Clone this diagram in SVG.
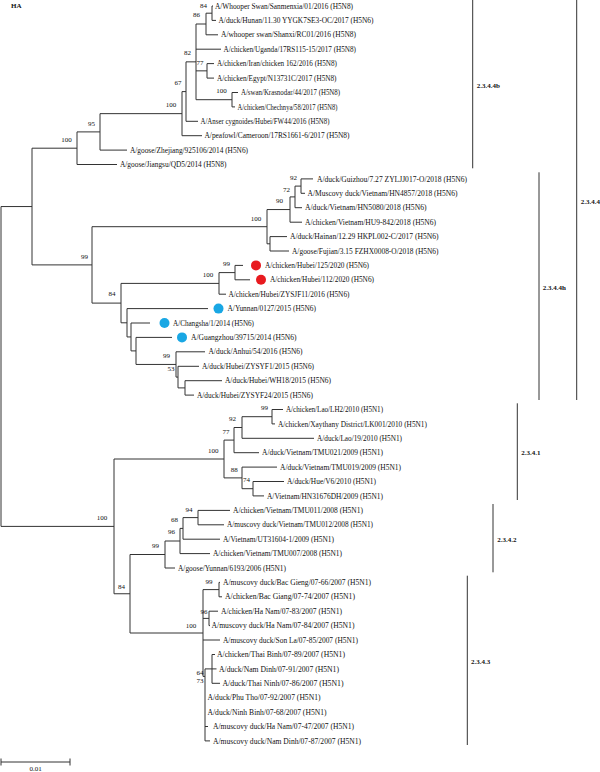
<svg xmlns="http://www.w3.org/2000/svg" width="600" height="772" viewBox="0 0 600 772">
<style>
.t{font-family:"Liberation Serif",serif;font-size:7.4px;fill:#111}
.b{font-family:"Liberation Serif",serif;font-size:7px;fill:#111;text-anchor:middle}
.c{font-family:"Liberation Serif",serif;font-size:7px;fill:#111;font-weight:bold}
.e{stroke:#333;stroke-width:1;fill:none}
.bar{stroke:#333;stroke-width:1;fill:none}
.red{fill:#e81a1f}
.blue{fill:#19a7e4}
</style>
<rect width="600" height="772" fill="#fff"/>
<text class="c" x="11" y="8">HA</text>

<g id="connectors" class="e">
<path d="M1 206.55V526.4M1 206.55H32M1 526.4H114"/>
<path d="M32 148.2V264.9M32 148.2H77M32 264.9H92"/>
<path d="M77 131.9V164.5M77 131.9H100M77 164.5H117"/>
<path d="M100 113.65V150.1M100 113.65H182M100 150.1H127"/>
<path d="M182 91.6V135.7M182 91.6H186M182 135.7H202"/>
<path d="M186 61.85V121.3M186 61.85H196M186 121.3H198"/>
<path d="M196 24V99.7M196 24H206M196 49.2H221M196 70.85H207M196 99.7H232"/>
<path d="M206 13.2V34.8M206 13.2H212M206 34.8H218"/>
<path d="M212 6V20.4M212 6H213M212 20.4H216"/>
<path d="M207 63.6V78.1M207 63.6H214M207 78.1H214"/>
<path d="M232 92.5V106.9M232 92.5H238M232 106.9H235"/>
<path d="M92 226.7V303.1M92 226.7H267M92 303.1H121"/>
<path d="M267 209.55V243.8M267 209.55H290M267 243.8H270"/>
<path d="M290 196.9V222.2M290 196.9H295M290 222.2H302"/>
<path d="M295 186.1V207.7M295 186.1H301M295 207.7H302"/>
<path d="M301 178.9V193.3M301 178.9H313M301 193.3H305"/>
<path d="M270 236.6V251M270 236.6H287M270 251H289"/>
<path d="M121 283.4V322.8M121 283.4H219M121 322.8H127"/>
<path d="M219 272.6V294.2M219 272.6H235M219 294.2H226"/>
<path d="M235 265.4V279.8M235 265.4H243M235 279.8H250"/>
<path d="M127 308.6V336.95M127 308.6H208M127 336.95H131"/>
<path d="M131 323V350.9M131 323H150M131 350.9H136"/>
<path d="M136 337.4V364.45M136 337.4H172M136 364.45H176"/>
<path d="M176 351.8V377.1M176 351.8H205M176 377.1H178"/>
<path d="M178 366.3V387.9M178 366.3H199M178 387.9H185"/>
<path d="M185 380.7V395.1M185 380.7H222M185 395.1H194"/>
<path d="M114 459V593.75M114 459H224M114 593.75H130"/>
<path d="M224 440.1V477.9M224 440.1H234M224 477.9H242"/>
<path d="M234 427.5V452.7M234 427.5H242M234 452.7H259"/>
<path d="M242 416.7V438.3M242 416.7H272M242 438.3H314"/>
<path d="M272 409.5V423.9M272 409.5H283M272 423.9H275"/>
<path d="M242 467.1V488.7M242 467.1H277M242 488.7H253"/>
<path d="M253 481.5V495.9M253 481.5H284M253 495.9H264"/>
<path d="M130 554.5V633M130 554.5H165M130 633H203"/>
<path d="M165 541V568M165 541H180M165 568H175"/>
<path d="M180 528.4V553.6M180 528.4H183M180 553.6H210"/>
<path d="M183 517.6V539.2M183 517.6H198M183 539.2H220"/>
<path d="M198 510.4V524.8M198 510.4H230M198 524.8H224"/>
<path d="M203 589.6V676.4M203 589.6H219M203 618.4H209M203 640H220M203 676.4H205"/>
<path d="M219 582.4V596.8M219 582.4H220M219 596.8H222"/>
<path d="M209 611.2V625.6M209 611.2H218M209 625.6H210"/>
<path d="M205 668.9V740.9M205 668.9H212M205 726.5H208M205 740.9H210"/>
<path d="M212 654.5V683.3M212 654.5H215M212 668.9H216.5M212 683.3H220"/>
</g>

<g id="bootstrap">
<text class="b" x="203.5" y="8.3">84</text>
<text class="b" x="196.5" y="17.3">86</text>
<text class="b" x="187.5" y="55">82</text>
<text class="b" x="200" y="65">77</text>
<text class="b" x="221.5" y="93.3">100</text>
<text class="b" x="178" y="85">67</text>
<text class="b" x="171" y="107.3">100</text>
<text class="b" x="91.5" y="125.6">95</text>
<text class="b" x="66.5" y="141.6">100</text>
<text class="b" x="84.5" y="259">99</text>
<text class="b" x="112" y="296.3">84</text>
<text class="b" x="293.5" y="180">92</text>
<text class="b" x="286.5" y="191.6">72</text>
<text class="b" x="279.5" y="203">90</text>
<text class="b" x="256" y="220.6">100</text>
<text class="b" x="226.5" y="266.3">99</text>
<text class="b" x="208" y="277">100</text>
<text class="b" x="166.5" y="358.3">99</text>
<text class="b" x="171" y="371.3">53</text>
<text class="b" x="102" y="519.6">100</text>
<text class="b" x="264.5" y="410">99</text>
<text class="b" x="232.5" y="420.6">92</text>
<text class="b" x="226" y="434">77</text>
<text class="b" x="213.3" y="453">100</text>
<text class="b" x="234.3" y="471.6">88</text>
<text class="b" x="246.5" y="482.3">74</text>
<text class="b" x="121.5" y="589">84</text>
<text class="b" x="155.5" y="548">99</text>
<text class="b" x="171.5" y="534.3">96</text>
<text class="b" x="174.5" y="521.6">68</text>
<text class="b" x="189" y="511.6">94</text>
<text class="b" x="191" y="628.3">100</text>
<text class="b" x="209" y="584.3">99</text>
<text class="b" x="204" y="614">96</text>
<text class="b" x="200" y="675">64</text>
<text class="b" x="200" y="683.3">73</text>
</g>

<g id="leaf1"><text class="t" x="215" y="8.6" textLength="138" lengthAdjust="spacingAndGlyphs">A/Whooper Swan/Sanmenxia/01/2016 (H5N8)</text></g>
<g id="leaf2"><text class="t" x="218.5" y="23" textLength="155" lengthAdjust="spacingAndGlyphs">A/duck/Hunan/11.30 YYGK7SE3-OC/2017 (H5N6)</text></g>
<g id="leaf3"><text class="t" x="221" y="37.4" textLength="135" lengthAdjust="spacingAndGlyphs">A/whooper swan/Shanxi/RC01/2016 (H5N8)</text></g>
<g id="leaf4"><text class="t" x="223.5" y="51.8" textLength="132.5" lengthAdjust="spacingAndGlyphs">A/chicken/Uganda/17RS115-15/2017 (H5N8)</text></g>
<g id="leaf5"><text class="t" x="217" y="66.2" textLength="120" lengthAdjust="spacingAndGlyphs">A/chicken/Iran/chicken 162/2016 (H5N8)</text></g>
<g id="leaf6"><text class="t" x="217" y="80.7" textLength="119.5" lengthAdjust="spacingAndGlyphs">A/chicken/Egypt/N13731C/2017 (H5N8)</text></g>
<g id="leaf7"><text class="t" x="241" y="95.1" textLength="99" lengthAdjust="spacingAndGlyphs">A/swan/Krasnodar/44/2017 (H5N8)</text></g>
<g id="leaf8"><text class="t" x="237.5" y="109.5" textLength="100" lengthAdjust="spacingAndGlyphs">A/chicken/Chechnya/58/2017 (H5N8)</text></g>
<g id="leaf9"><text class="t" x="200.5" y="123.9" textLength="129" lengthAdjust="spacingAndGlyphs">A/Anser cygnoides/Hubei/FW44/2016 (H5N8)</text></g>
<g id="leaf10"><text class="t" x="204.5" y="138.3" textLength="145" lengthAdjust="spacingAndGlyphs">A/peafowl/Cameroon/17RS1661-6/2017 (H5N8)</text></g>
<g id="leaf11"><text class="t" x="130" y="152.7" textLength="118" lengthAdjust="spacingAndGlyphs">A/goose/Zhejiang/925106/2014 (H5N6)</text></g>
<g id="leaf12"><text class="t" x="120" y="167.1" textLength="106.5" lengthAdjust="spacingAndGlyphs">A/goose/Jiangsu/QD5/2014 (H5N8)</text></g>
<g id="leaf13"><text class="t" x="317" y="181.5" textLength="150" lengthAdjust="spacingAndGlyphs">A/duck/Guizhou/7.27 ZYLJJ017-O/2018 (H5N6)</text></g>
<g id="leaf14"><text class="t" x="307.5" y="195.9" textLength="150" lengthAdjust="spacingAndGlyphs">A/Muscovy duck/Vietnam/HN4857/2018 (H5N6)</text></g>
<g id="leaf15"><text class="t" x="305" y="210.3" textLength="121.5" lengthAdjust="spacingAndGlyphs">A/duck/Vietnam/HN5080/2018 (H5N6)</text></g>
<g id="leaf16"><text class="t" x="305" y="224.8" textLength="131" lengthAdjust="spacingAndGlyphs">A/chicken/Vietnam/HU9-842/2018 (H5N6)</text></g>
<g id="leaf17"><text class="t" x="290" y="239.2" textLength="148.5" lengthAdjust="spacingAndGlyphs">A/duck/Hainan/12.29 HKPL002-C/2017 (H5N6)</text></g>
<g id="leaf18"><text class="t" x="292" y="253.6" textLength="146.5" lengthAdjust="spacingAndGlyphs">A/goose/Fujian/3.15 FZHX0008-O/2018 (H5N6)</text></g>
<g id="leaf19"><circle class="red" cx="256" cy="265.4" r="5"/><text class="t" x="265" y="268" textLength="104" lengthAdjust="spacingAndGlyphs">A/chicken/Hubei/125/2020 (H5N6)</text></g>
<g id="leaf20"><circle class="red" cx="261" cy="279.8" r="5"/><text class="t" x="270" y="282.4" textLength="104" lengthAdjust="spacingAndGlyphs">A/chicken/Hubei/112/2020 (H5N6)</text></g>
<g id="leaf21"><text class="t" x="228.5" y="296.8" textLength="121" lengthAdjust="spacingAndGlyphs">A/chicken/Hubei/ZYSJF11/2016 (H5N6)</text></g>
<g id="leaf22"><circle class="blue" cx="218.5" cy="308.6" r="5"/><text class="t" x="227.5" y="311.2" textLength="88.5" lengthAdjust="spacingAndGlyphs">A/Yunnan/0127/2015 (H5N6)</text></g>
<g id="leaf23"><circle class="blue" cx="164.5" cy="323" r="5"/><text class="t" x="173" y="325.6" textLength="81" lengthAdjust="spacingAndGlyphs">A/Changsha/1/2014 (H5N6)</text></g>
<g id="leaf24"><circle class="blue" cx="182" cy="337.4" r="5"/><text class="t" x="191" y="340" textLength="105.5" lengthAdjust="spacingAndGlyphs">A/Guangzhou/39715/2014 (H5N6)</text></g>
<g id="leaf25"><text class="t" x="208.5" y="354.4" textLength="94" lengthAdjust="spacingAndGlyphs">A/duck/Anhui/54/2016 (H5N6)</text></g>
<g id="leaf26"><text class="t" x="202" y="368.9" textLength="112" lengthAdjust="spacingAndGlyphs">A/duck/Hubei/ZYSYF1/2015 (H5N6)</text></g>
<g id="leaf27"><text class="t" x="225" y="383.3" textLength="106" lengthAdjust="spacingAndGlyphs">A/duck/Hubei/WH18/2015 (H5N6)</text></g>
<g id="leaf28"><text class="t" x="197" y="397.7" textLength="116" lengthAdjust="spacingAndGlyphs">A/duck/Hubei/ZYSYF24/2015 (H5N6)</text></g>
<g id="leaf29"><text class="t" x="286" y="412.1" textLength="97" lengthAdjust="spacingAndGlyphs">A/chicken/Lao/LH2/2010 (H5N1)</text></g>
<g id="leaf30"><text class="t" x="278" y="426.5" textLength="149" lengthAdjust="spacingAndGlyphs">A/chicken/Xaythany District/LK001/2010 (H5N1)</text></g>
<g id="leaf31"><text class="t" x="317" y="440.9" textLength="85" lengthAdjust="spacingAndGlyphs">A/duck/Lao/19/2010 (H5N1)</text></g>
<g id="leaf32"><text class="t" x="262" y="455.3" textLength="121" lengthAdjust="spacingAndGlyphs">A/duck/Vietnam/TMU021/2009 (H5N1)</text></g>
<g id="leaf33"><text class="t" x="280" y="469.7" textLength="121" lengthAdjust="spacingAndGlyphs">A/duck/Vietnam/TMU019/2009 (H5N1)</text></g>
<g id="leaf34"><text class="t" x="287" y="484.1" textLength="89" lengthAdjust="spacingAndGlyphs">A/duck/Hue/V6/2010 (H5N1)</text></g>
<g id="leaf35"><text class="t" x="267" y="498.5" textLength="116" lengthAdjust="spacingAndGlyphs">A/Vietnam/HN31676DH/2009 (H5N1)</text></g>
<g id="leaf36"><text class="t" x="233" y="513" textLength="130" lengthAdjust="spacingAndGlyphs">A/chicken/Vietnam/TMU011/2008 (H5N1)</text></g>
<g id="leaf37"><text class="t" x="227" y="527.4" textLength="146" lengthAdjust="spacingAndGlyphs">A/muscovy duck/Vietnam/TMU012/2008 (H5N1)</text></g>
<g id="leaf38"><text class="t" x="223" y="541.8" textLength="111" lengthAdjust="spacingAndGlyphs">A/Vietnam/UT31604-1/2009 (H5N1)</text></g>
<g id="leaf39"><text class="t" x="213" y="556.2" textLength="129" lengthAdjust="spacingAndGlyphs">A/chicken/Vietnam/TMU007/2008 (H5N1)</text></g>
<g id="leaf40"><text class="t" x="178" y="570.6" textLength="108" lengthAdjust="spacingAndGlyphs">A/goose/Yunnan/6193/2006 (H5N1)</text></g>
<g id="leaf41"><text class="t" x="223" y="585" textLength="148" lengthAdjust="spacingAndGlyphs">A/muscovy duck/Bac Gieng/07-66/2007 (H5N1)</text></g>
<g id="leaf42"><text class="t" x="225" y="599.4" textLength="130" lengthAdjust="spacingAndGlyphs">A/chicken/Bac Giang/07-74/2007 (H5N1)</text></g>
<g id="leaf43"><text class="t" x="221" y="613.8" textLength="121" lengthAdjust="spacingAndGlyphs">A/chicken/Ha Nam/07-83/2007 (H5N1)</text></g>
<g id="leaf44"><text class="t" x="211.5" y="628.2" textLength="143" lengthAdjust="spacingAndGlyphs">A/muscovy duck/Ha Nam/07-84/2007 (H5N1)</text></g>
<g id="leaf45"><text class="t" x="223" y="642.6" textLength="135" lengthAdjust="spacingAndGlyphs">A/muscovy duck/Son La/07-85/2007 (H5N1)</text></g>
<g id="leaf46"><text class="t" x="217" y="657.1" textLength="128" lengthAdjust="spacingAndGlyphs">A/chicken/Thai Binh/07-89/2007 (H5N1)</text></g>
<g id="leaf47"><text class="t" x="219" y="671.5" textLength="120" lengthAdjust="spacingAndGlyphs">A/duck/Nam Dinh/07-91/2007 (H5N1)</text></g>
<g id="leaf48"><text class="t" x="222.5" y="685.9" textLength="121" lengthAdjust="spacingAndGlyphs">A/duck/Thai Ninh/07-86/2007 (H5N1)</text></g>
<g id="leaf49"><text class="t" x="207.5" y="700.3" textLength="113" lengthAdjust="spacingAndGlyphs">A/duck/Phu Tho/07-92/2007 (H5N1)</text></g>
<g id="leaf50"><text class="t" x="207.5" y="714.7" textLength="119" lengthAdjust="spacingAndGlyphs">A/duck/Ninh Binh/07-68/2007 (H5N1)</text></g>
<g id="leaf51"><text class="t" x="213" y="729.1" textLength="141" lengthAdjust="spacingAndGlyphs">A/muscovy duck/Ha Nam/07-47/2007 (H5N1)</text></g>
<g id="leaf52"><text class="t" x="213" y="743.5" textLength="148" lengthAdjust="spacingAndGlyphs">A/muscovy duck/Nam Dinh/07-87/2007 (H5N1)</text></g>

<g id="clade-2.3.4.4b"><path class="bar" d="M472.7 0V168.3"/><text class="c" x="476.7" y="87.5">2.3.4.4b</text></g>
<g id="clade-2.3.4.4"><path class="bar" d="M576.7 0V400"/><text class="c" x="580.7" y="203.5">2.3.4.4</text></g>
<g id="clade-2.3.4.4h"><path class="bar" d="M539 172.3V400"/><text class="c" x="542.7" y="289.5">2.3.4.4h</text></g>
<g id="clade-2.3.4.1"><path class="bar" d="M517.3 403.3V500"/><text class="c" x="521.3" y="454.8">2.3.4.1</text></g>
<g id="clade-2.3.4.2"><path class="bar" d="M493 504V572.3"/><text class="c" x="497.3" y="541.8">2.3.4.2</text></g>
<g id="clade-2.3.4.3"><path class="bar" d="M467.3 575.7V745"/><text class="c" x="471" y="664.2">2.3.4.3</text></g>

<g id="scale-bar"><path class="e" d="M1 762H70M1 758.5V765.5M70 758.5V765.5"/><text class="b" x="35.5" y="771">0.01</text></g>
</svg>
